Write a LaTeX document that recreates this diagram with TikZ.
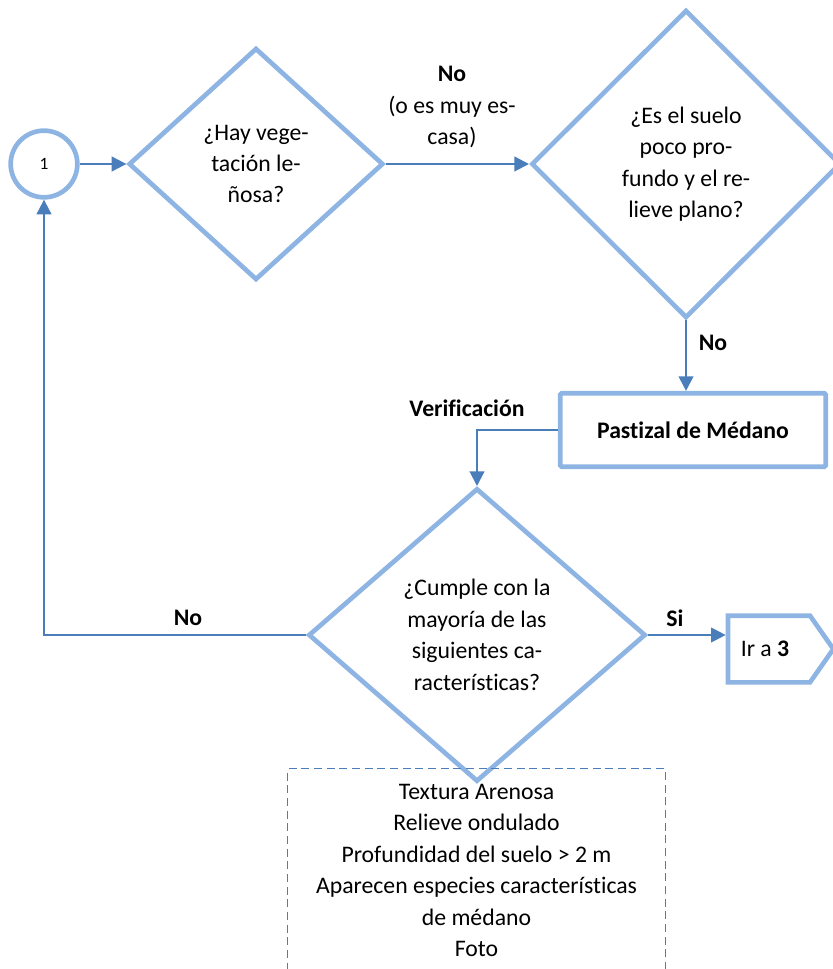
\documentclass[tikz,border=0pt]{standalone}
\usepackage{fontspec}
\setmainfont{Carlito}[Ligatures=NoCommon]
\usetikzlibrary{shapes.geometric,shapes.symbols,arrows.meta}

\definecolor{shapeblue}{RGB}{141,180,226}
\definecolor{linkblue}{RGB}{74,126,187}

\tikzset{
  txt/.style={font=\fontsize{17.8}{23.6}\selectfont, align=center, inner sep=0.75pt},
  decision/.style={txt, diamond, draw=shapeblue, line width=3.5pt, inner sep=0pt},
  process/.style={txt, rectangle, draw=shapeblue, line width=3.6pt, rounded corners=1pt},
  link/.style={draw=linkblue, line width=1.6pt, -{Triangle[length=11pt,width=11pt]}},
  lbl/.style={txt, font=\fontsize{17.8}{23.6}\selectfont\bfseries},
}

\begin{document}
\begin{tikzpicture}[x=0.75pt,y=0.75pt,yscale=-1,xscale=1]
\useasboundingbox (0,0) rectangle (832,969);

% Connector circle
\node[txt, circle, draw=shapeblue, line width=3.5pt, minimum size=50pt, font=\fontsize{13}{15}\selectfont] (uno) at (44,164) {1};

% Decisions
\node[decision, minimum width=191pt, minimum height=174pt] (lenosa) at (256,164) {¿Hay vege-\\tación le-\\ñosa?};
\node[decision, minimum width=232pt, minimum height=231pt] (suelo) at (686,164) {¿Es el suelo\\poco pro-\\fundo y el re-\\lieve plano?};
\node[decision, minimum width=253pt, minimum height=220pt] (cumple) at (477,635) {¿Cumple con la\\mayoría de las\\siguientes ca-\\racterísticas?};

% Process and off-page link
\node[process, minimum width=199pt, minimum height=55pt, font=\fontsize{17.8}{23.6}\selectfont\bfseries] (pastizal) at (693,430) {Pastizal de Médano};
\node[txt, signal, signal to=east, signal pointer angle=110, draw=shapeblue, line width=3.5pt, minimum width=79pt, minimum height=50pt] (irtres) at (769,649) {Ir a \textbf{3}\hspace{6pt}};

% Characteristics list
\node[txt, anchor=north, draw=linkblue, dashed, line width=0.9pt, dash pattern=on 6pt off 3.5pt, minimum width=283pt, minimum height=153pt] (lista) at (476.5,768) {Textura Arenosa\\Relieve ondulado\\Profundidad del suelo > 2 m\\Aparecen especies características\\de médano\\Foto};

% Connectors
\draw[link] (uno.east) -- (lenosa.west);
\draw[link] (lenosa.east) -- (suelo.west);
\draw[link] (suelo.south) -- (suelo.south |- pastizal.north);
\draw[link] (pastizal.west) -| (cumple.north);
\draw[link] (cumple.west) -| (uno.south);
\draw[link] (cumple.east) -- (cumple.east -| irtres.west);

% Labels
\node[txt] (noescasa) at (452,107) {\textbf{No}\\(o es muy es-\\casa)};
\node[lbl] (nosuelo) at (713,343) {No};
\node[lbl] (verif) at (467,408) {Verificación};
\node[lbl] (nocumple) at (188,618) {No};
\node[lbl] (si) at (675,618) {Si};

\end{tikzpicture}
\end{document}
